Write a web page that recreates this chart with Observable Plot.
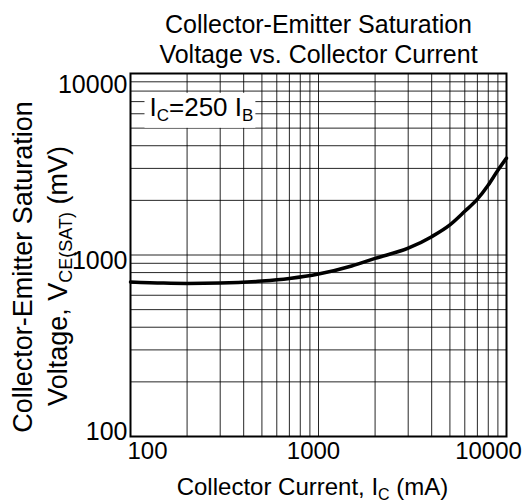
<!DOCTYPE html>
<html><head><meta charset="utf-8">
<script src="https://cdn.jsdelivr.net/npm/d3@7"></script>
<script src="https://cdn.jsdelivr.net/npm/@observablehq/plot@0.6"></script>
<style>html,body{margin:0;padding:0;background:#fff} svg{display:block}</style>
</head><body><div id="chart"></div>
<script>
// ---- data ----
const collectorCurrent = [100, 150, 200, 300, 500, 700, 1000, 1500, 2000, 3000, 4000, 5000, 6000, 7000, 8000, 9000, 10000];
const vceSat = [710, 700, 697, 700, 718, 742, 785, 870, 958, 1090, 1262, 1465, 1740, 2030, 2430, 2930, 3420];
const xTickLabels = [100, 1000, 10000];
const yTickLabels = [100, 1000, 10000];
const titleLines = ["Collector-Emitter Saturation", "Voltage vs. Collector Current"];
const xLabel = "Collector Current, I{C} (mA)";
const yLabelLines = ["Collector-Emitter Saturation", "Voltage, V{CE(SAT)} (mV)"];
const annotation = "I{C}=250 I{B}";

const data = collectorCurrent.map((x, i) => ({x, y: vceSat[i]}));
const xGrid = d3.scaleLog().domain([100, 10000]).ticks();
const yGrid = d3.scaleLog().domain([100, 10000]).ticks();
const font = "'Liberation Sans', Arial, Helvetica, sans-serif";
const lbl = d => String(d);

const chart = Plot.plot({
  width: 531, height: 501,
  marginLeft: 130, marginRight: 25, marginTop: 73, marginBottom: 65,
  style: {fontFamily: font, background: "#fff", color: "#000"},
  x: {type: "log", domain: [100, 10000], axis: null},
  y: {type: "log", domain: [100, 10000], axis: null},
  marks: [
    Plot.ruleX(xGrid, {stroke: "#000", strokeWidth: 1, strokeOpacity: 0.85}),
    Plot.ruleY(yGrid, {stroke: "#000", strokeWidth: 1, strokeOpacity: 0.85}),
    Plot.frame({stroke: "#000", strokeWidth: 2}),
    Plot.line(data, {x: "x", y: "y", stroke: "#000", strokeWidth: 3.5, curve: "monotone-x"}),
    Plot.text([annotation], {text: d => d, frameAnchor: "top-left", textAnchor: "start", lineAnchor: "middle", dx: 19, dy: 34, fontSize: 26}),
    // x tick labels
    Plot.text(xTickLabels.filter(d => d === 100), {x: d => d, text: lbl, frameAnchor: "bottom", lineAnchor: "top", textAnchor: "start", dx: -3, dy: 5, fontSize: 24}),
    Plot.text(xTickLabels.filter(d => d === 1000), {x: d => d, text: lbl, frameAnchor: "bottom", lineAnchor: "top", textAnchor: "middle", dx: -5, dy: 5, fontSize: 24}),
    Plot.text(xTickLabels.filter(d => d === 10000), {x: d => d, text: lbl, frameAnchor: "bottom", lineAnchor: "top", textAnchor: "middle", dx: -18, dy: 5, fontSize: 24}),
    // y tick labels
    Plot.text(yTickLabels.filter(d => d === 10000), {y: d => d, text: lbl, frameAnchor: "left", textAnchor: "end", dx: -3, dy: 11, fontSize: 25}),
    Plot.text(yTickLabels.filter(d => d === 1000), {y: d => d, text: lbl, frameAnchor: "left", textAnchor: "end", dx: -3, dy: 6, fontSize: 25}),
    Plot.text(yTickLabels.filter(d => d === 100), {y: d => d, text: lbl, frameAnchor: "left", textAnchor: "end", dx: -3, dy: -5, fontSize: 25}),
    // title
    Plot.text([titleLines.join("\n")], {text: d => d, frameAnchor: "top", textAnchor: "middle", lineAnchor: "bottom", dy: -11, fontSize: 25, lineHeight: 1.2}),
    // x label
    Plot.text([xLabel], {text: d => d, frameAnchor: "bottom", textAnchor: "middle", lineAnchor: "bottom", dx: -6, dy: 58, fontSize: 24}),
    // y labels
    Plot.text([yLabelLines[0]], {text: d => d, frameAnchor: "left", textAnchor: "middle", rotate: -90, dx: -107, dy: 12, fontSize: 27}),
    Plot.text([yLabelLines[1]], {text: d => d, frameAnchor: "left", textAnchor: "middle", rotate: -90, dx: -72, dy: 21, fontSize: 27})
  ]
});
document.getElementById("chart").appendChild(chart);

// subscripts
const NS = "http://www.w3.org/2000/svg";
function applySubs(el) {
  const s = el.textContent;
  if (!s.includes("{")) return false;
  const fs = parseFloat(getComputedStyle(el).fontSize) || 24;
  const shift = Math.round(fs * 0.2);
  el.textContent = "";
  let shifted = false;
  s.split(/(\{[^}]*\})/).filter(p => p.length).forEach(p => {
    const ts = document.createElementNS(NS, "tspan");
    if (p[0] === "{") {
      ts.textContent = p.slice(1, -1);
      ts.setAttribute("font-size", Math.round(fs * 0.66));
      ts.setAttribute("dy", shift);
      shifted = true;
    } else {
      ts.textContent = p;
      if (shifted) { ts.setAttribute("dy", -shift); shifted = false; }
    }
    el.appendChild(ts);
  });
  return true;
}
chart.querySelectorAll("text").forEach(t => {
  const raw = t.textContent;
  const isAnn = raw === annotation;
  applySubs(t);
  if (isAnn) {
    const b = t.getBBox();
    const r = document.createElementNS(NS, "rect");
    r.setAttribute("x", b.x - 5);
    r.setAttribute("y", b.y + 1);
    r.setAttribute("width", b.width + 7);
    r.setAttribute("height", b.height + 2);
    r.setAttribute("fill", "#fff");
    if (t.getAttribute("transform")) r.setAttribute("transform", t.getAttribute("transform"));
    t.parentNode.insertBefore(r, t);
  }
});
</script>
</body></html>
